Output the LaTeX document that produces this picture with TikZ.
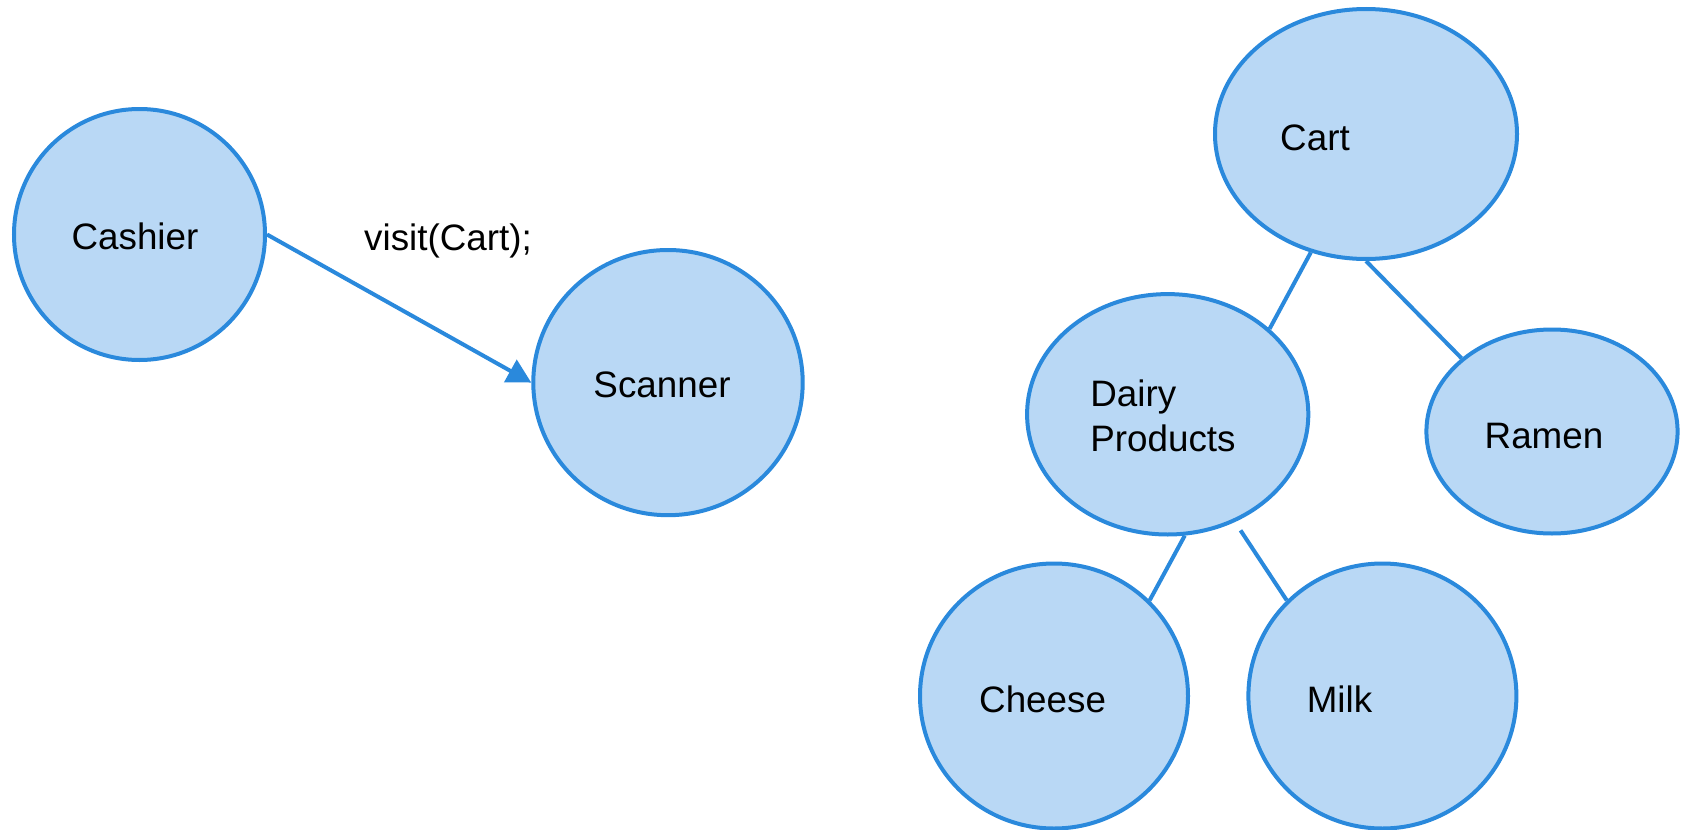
\documentclass[tikz,border=0pt]{standalone}
\usepackage{fontspec}
\setmainfont{Liberation Sans}
\usetikzlibrary{shapes.geometric,arrows.meta}
\definecolor{edgeblue}{RGB}{42,137,220}
\definecolor{fillblue}{RGB}{185,216,245}
\begin{document}
\begin{tikzpicture}[x=0.5pt,y=-0.5pt,
  obj/.style={ellipse,draw=edgeblue,fill=fillblue,line width=2pt,inner sep=0pt},
  link/.style={draw=edgeblue,line width=2pt},
  lbl/.style={font=\fontsize{18.4}{22.5}\selectfont,inner sep=0pt,anchor=base,text=black}]
\useasboundingbox (0,0) rectangle (1683,830);

% objects
\node[obj,minimum width=125.5pt,minimum height=125.5pt] (cashier) at (139.5,234.5) {};
\node[obj,minimum width=134.7pt,minimum height=132.6pt] (scanner) at (668,382.6) {};
\node[obj,minimum width=151pt,minimum height=125pt] (cart) at (1366,134) {};
\node[obj,minimum width=140.6pt,minimum height=120.2pt] (dairy) at (1167.7,414.3) {};
\node[obj,minimum width=125.6pt,minimum height=102pt] (ramen) at (1552,431.5) {};
\node[obj,minimum width=134pt,minimum height=132.5pt] (cheese) at (1054,696) {};
\node[obj,minimum width=134pt,minimum height=132.5pt] (milk) at (1382.4,696) {};

% labels
\node[lbl] (tcashier) at (135,249) {Cashier};
\node[lbl] (tvisit) at (448,250) {visit(Cart);};
\node[lbl] (tscanner) at (662,397) {Scanner};
\node[lbl] (tcart) at (1315,150) {Cart};
\node[lbl,anchor=base west,align=left] (tdairy) at (1090,451.7) {Dairy\\Products};
\node[lbl] (tramen) at (1544,448) {Ramen};
\node[lbl] (tcheese) at (1042.6,712) {Cheese};
\node[lbl] (tmilk) at (1339.5,712) {Milk};

% connectors
\draw[link,-{Triangle[length=12pt,width=12.5pt]}] (cashier.east) -- (scanner.west);
\draw[link] (cart.245) -- (dairy.40);
\draw[link] (cart.270) -- (ramen.141);
\draw[link] (dairy.278) -- (cheese.45);
\draw[link,shorten <=5pt] (dairy.302) -- (milk.135);
\end{tikzpicture}
\end{document}
